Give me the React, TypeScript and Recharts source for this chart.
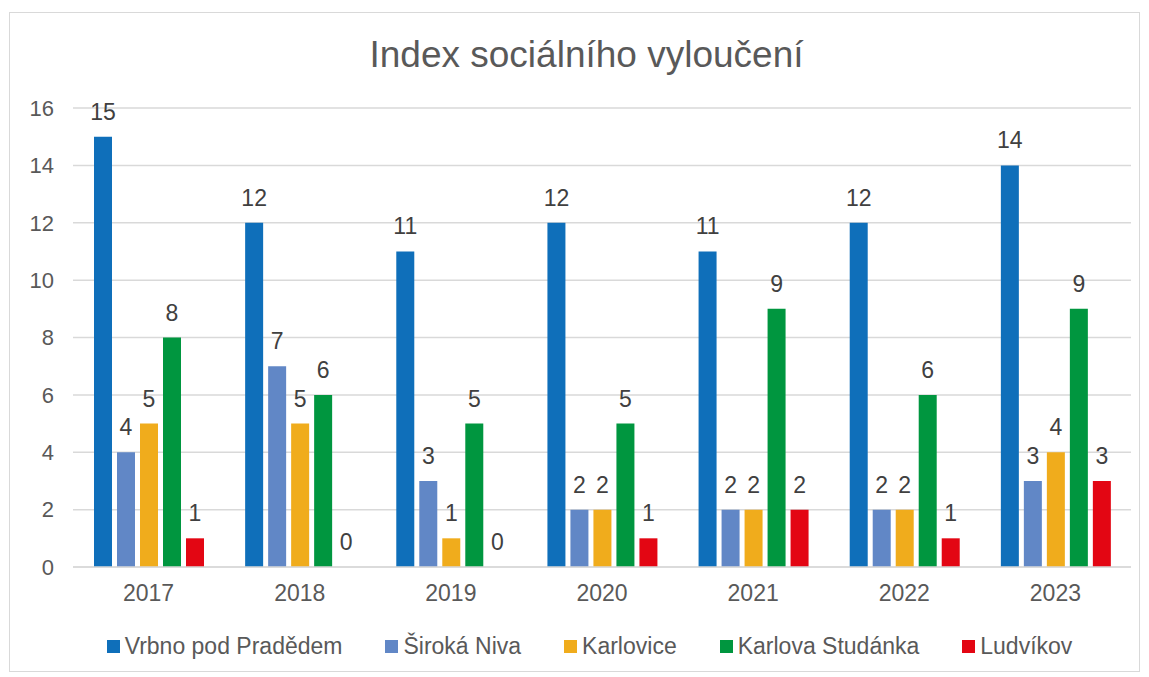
import { BarChart, Bar, XAxis, YAxis, CartesianGrid, LabelList } from "recharts";

const years = ["2017", "2018", "2019", "2020", "2021", "2022", "2023"];
const vrbno = [15, 12, 11, 12, 11, 12, 14];
const sirokaNiva = [4, 7, 3, 2, 2, 2, 3];
const karlovice = [5, 5, 1, 2, 2, 2, 4];
const karlovaStudanka = [8, 6, 5, 5, 9, 6, 9];
const ludvikov = [1, 0, 0, 1, 2, 1, 3];
const yTicks = [0, 2, 4, 6, 8, 10, 12, 14, 16];

const series = [
  { key: "vrbno", name: "Vrbno pod Pradědem", color: "#0F6FBA", values: vrbno },
  { key: "siroka", name: "Široká Niva", color: "#6187C6", values: sirokaNiva },
  { key: "karlovice", name: "Karlovice", color: "#F0AC1C", values: karlovice },
  { key: "studanka", name: "Karlova Studánka", color: "#00963F", values: karlovaStudanka },
  { key: "ludvikov", name: "Ludvíkov", color: "#E30613", values: ludvikov },
];

const data = years.map((year, i) => {
  const row: Record<string, string | number> = { year };
  series.forEach((s) => {
    row[s.key] = s.values[i];
  });
  return row;
});

const font = "'Liberation Sans', Arial, sans-serif";

// draw value labels ourselves so zero-height bars still get their "0"
const renderValue = (props: any) => {
  const { x, y, width, value } = props;
  if (value === undefined || value === null) return null;
  return (
    <text
      x={Number(x) + Number(width) / 2}
      y={Number(y) - 17}
      textAnchor="middle"
      fill="#404040"
      fontSize={23}
      fontFamily={font}
    >
      {value}
    </text>
  );
};

export default function App() {
  return (
    <div
      style={{
        position: "absolute",
        left: 9,
        top: 12,
        width: 1129,
        height: 658,
        border: "1px solid #d9d9d9",
        background: "#fff",
        fontFamily: font,
      }}
    >
      <div
        style={{
          position: "absolute",
          top: 21,
          left: 12,
          width: "100%",
          textAlign: "center",
          fontSize: 37,
          color: "#595959",
        }}
      >
        Index sociálního vyloučení
      </div>
      <BarChart
        width={1129}
        height={658}
        data={data}
        margin={{ top: 95, right: 8, left: 0, bottom: 64 }}
        barGap={5}
        barCategoryGap={21}
      >
        <CartesianGrid vertical={false} stroke="#d9d9d9" strokeWidth={1.5} />
        <XAxis
          dataKey="year"
          height={40}
          tickLine={false}
          axisLine={{ stroke: "#d9d9d9", strokeWidth: 1.5 }}
          tick={{ fill: "#595959", fontSize: 23, fontFamily: font, dy: 10 }}
        />
        <YAxis
          width={63}
          domain={[0, 16]}
          ticks={yTicks}
          tickLine={false}
          axisLine={false}
          tick={{ fill: "#595959", fontSize: 22, fontFamily: font, dx: -11 }}
        />
        {series.map((s) => (
          <Bar
            key={s.key}
            dataKey={s.key}
            name={s.name}
            fill={s.color}
            isAnimationActive={false}
            minPointSize={(v: number) => (v === 0 ? 0.01 : 0)}
          >
            <LabelList dataKey={s.key} content={renderValue} />
          </Bar>
        ))}
      </BarChart>
      <div
        style={{
          position: "absolute",
          top: 620,
          left: 0,
          width: "100%",
          display: "flex",
          justifyContent: "center",
          paddingLeft: 30,
          boxSizing: "border-box",
          gap: 43,
          fontSize: 23,
          color: "#595959",
        }}
      >
        {series.map((s) => (
          <div key={s.key} style={{ display: "flex", alignItems: "center" }}>
            <span
              style={{
                display: "inline-block",
                width: 13,
                height: 13,
                background: s.color,
                marginRight: 5,
              }}
            />
            {s.name}
          </div>
        ))}
      </div>
    </div>
  );
}
